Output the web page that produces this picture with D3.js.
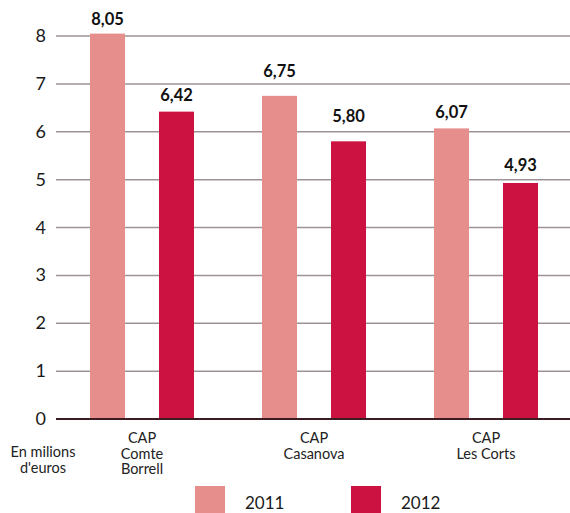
<!DOCTYPE html>
<html>
<head>
<meta charset="utf-8">
<script src="https://cdn.jsdelivr.net/npm/d3@7"></script>
<style>
  body { margin: 0; background: #fff; }
  text { font-family: Lato, "Open Sans", sans-serif; }
</style>
</head>
<body>
<div id="chart"></div>
<script>
const categories = [['CAP', 'Comte', 'Borrell'], ['CAP', 'Casanova'], ['CAP', 'Les Corts']]
const catKeys = ['Comte Borrell', 'Casanova', 'Les Corts']
const series = ['2011', '2012']
const values2011 = [8.05, 6.75, 6.07]
const values2012 = [6.42, 5.80, 4.93]
const ticks = [0, 1, 2, 3, 4, 5, 6, 7, 8]
const colors = ['#e58e8b', '#cc1241']

const width = 570
const height = 513

// space between a bar top and its value label, as placed in the original
const labelGap = [[9, 11], [19, 19], [10, 12]]

const svg = d3.select('#chart')
    .append('svg')
    .attr('width', width)
    .attr('height', height)

const y = d3.scaleLinear().domain([0, 8]).range([419, 36])
const x0 = d3.scaleBand().domain(catKeys).range([56, 572])
const x1 = d3.scaleBand().domain(series).range([34, 138]).paddingInner(0.493)
const color = d3.scaleOrdinal().domain(series).range(colors)

const fmt = (v) => v.toFixed(2).replace('.', ',')

// gridlines
svg.append('g')
    .selectAll('line')
    .data(ticks.filter((t) => t > 0))
    .enter()
    .append('line')
    .attr('x1', 56)
    .attr('x2', width)
    .attr('y1', (d) => y(d))
    .attr('y2', (d) => y(d))
    .attr('stroke', '#9d9397')
    .attr('stroke-width', 1.5)

// tick labels
svg.append('g')
    .selectAll('text')
    .data(ticks)
    .enter()
    .append('text')
    .attr('x', 46)
    .attr('y', (d) => y(d) + 6)
    .attr('text-anchor', 'end')
    .attr('font-size', 18)
    .attr('fill', '#1a1a1a')
    .text((d) => d)

// bars
const rows = catKeys.map((c, i) => ({ key: c, idx: i, vals: [values2011[i], values2012[i]] }))

const group = svg.selectAll('.grp')
    .data(rows)
    .enter()
    .append('g')
    .attr('class', 'grp')
    .attr('transform', (d) => 'translate(' + x0(d.key) + ',0)')

const cells = (d) => d.vals.map((v, j) => ({ s: series[j], v: v, gap: labelGap[d.idx][j] }))

group.selectAll('rect')
    .data(cells)
    .enter()
    .append('rect')
    .attr('x', (d) => x1(d.s))
    .attr('y', (d) => y(d.v))
    .attr('width', x1.bandwidth())
    .attr('height', (d) => y(0) - y(d.v))
    .attr('fill', (d) => color(d.s))

group.selectAll('.val')
    .data(cells)
    .enter()
    .append('text')
    .attr('class', 'val')
    .attr('x', (d) => x1(d.s) + x1.bandwidth() / 2)
    .attr('y', (d) => y(d.v) - d.gap)
    .attr('text-anchor', 'middle')
    .attr('font-size', 16.5)
    .attr('font-weight', 'bold')
    .attr('fill', '#111')
    .text((d) => fmt(d.v))

// zero line
svg.append('line')
    .attr('x1', 56)
    .attr('x2', width)
    .attr('y1', y(0))
    .attr('y2', y(0))
    .attr('stroke', '#3a1c22')
    .attr('stroke-width', 2)

// category labels
categories.forEach((lines, i) => {
    const cx = x0(catKeys[i]) + x0.bandwidth() / 2
    const t = svg.append('text')
        .attr('x', cx)
        .attr('y', 443)
        .attr('text-anchor', 'middle')
        .attr('font-size', 14.5)
        .attr('fill', '#222')
    lines.forEach((l, k) => {
        t.append('tspan')
            .attr('x', cx)
            .attr('dy', k === 0 ? 0 : 15.5)
            .text(l)
    })
})

// unit label
const unit = svg.append('text')
    .attr('x', 43)
    .attr('y', 457)
    .attr('text-anchor', 'middle')
    .attr('font-size', 14.5)
    .attr('fill', '#222')
unit.append('tspan').attr('x', 43).text('En milions')
unit.append('tspan').attr('x', 43).attr('dy', 15.5).text("d'euros")

// legend
const legend = svg.selectAll('.leg')
    .data(series)
    .enter()
    .append('g')
    .attr('class', 'leg')
    .attr('transform', (d, i) => 'translate(' + (195 + i * 156) + ',486)')

legend.append('rect')
    .attr('width', 30)
    .attr('height', 27)
    .attr('fill', (d) => color(d))

legend.append('text')
    .attr('x', 50)
    .attr('y', 23)
    .attr('font-size', 17)
    .attr('fill', '#1a1a1a')
    .text((d) => d)
</script>
</body>
</html>
